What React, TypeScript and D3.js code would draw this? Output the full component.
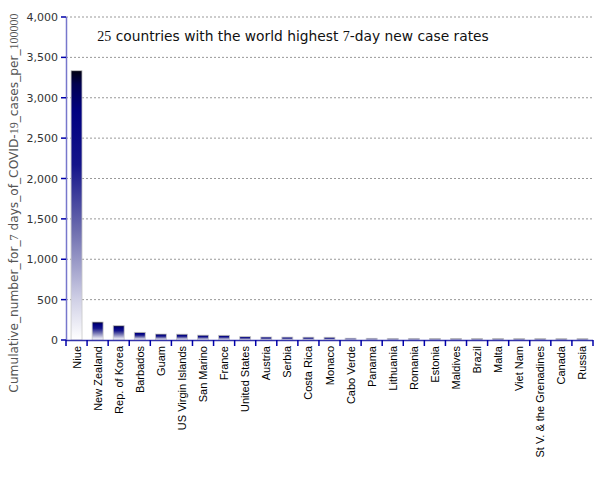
import React from "react";
import * as d3 from "d3";

const countries = ["Niue","New Zealand","Rep. of Korea","Barbados","Guam","US Virgin Islands","San Marino","France","United States","Austria","Serbia","Costa Rica","Monaco","Cabo Verde","Panama","Lithuania","Romania","Estonia","Maldives","Brazil","Malta","Viet Nam","St V. & the Grenadines","Canada","Russia"];
const values = [3335,223,177,95,74,72,60,58,41,37,36,35,34,22,21,20,20,19,19,18,18,17,17,16,16];
const yTicks = [0,500,1000,1500,2000,2500,3000,3500,4000];

const W = 605, H = 480;
const left = 66, right = 593, top = 17, bottom = 340;

export default function App() {
  const x = d3.scaleBand<string>().domain(countries).range([left, right]).paddingInner(0.48).paddingOuter(0.24);
  const y = d3.scaleLinear().domain([0, 4000]).range([bottom, top]);
  const fmt = d3.format(",");
  const band = (right - left) / countries.length;
  const serif = "'Liberation Serif', 'Times New Roman', serif";
  return (
    <svg width={W} height={H} style={{ position: "absolute", left: 0, top: 0 }} fontFamily="'DejaVu Sans', sans-serif">
      <defs>
        <linearGradient id="barg" x1="0" y1="0" x2="0" y2="1">
          <stop offset="0" stopColor="#000010" />
          <stop offset="0.05" stopColor="#000050" />
          <stop offset="0.15" stopColor="#000080" />
          <stop offset="0.35" stopColor="#14148a" />
          <stop offset="0.6" stopColor="#7070b0" />
          <stop offset="0.85" stopColor="#d0d0e6" />
          <stop offset="1" stopColor="#ffffff" />
        </linearGradient>
      </defs>
      <rect width={W} height={H} fill="#fff" />
      {yTicks.filter(t => t > 0).map(t => (
        <line key={t} x1={left} x2={right} y1={y(t)} y2={y(t)} stroke="#999" strokeDasharray="2,2" strokeWidth={1} />
      ))}
      {countries.map((c, i) => (
        <rect key={c} x={x(c)} y={y(values[i])} width={x.bandwidth()} height={bottom - y(values[i])} fill="url(#barg)" stroke="#c8c8c8" strokeWidth={0.8} />
      ))}
      <line x1={left + 0.5} x2={left + 0.5} y1={top} y2={bottom} stroke="#7777cc" strokeWidth={1.5} />
      <line x1={left} x2={right} y1={bottom + 0.5} y2={bottom + 0.5} stroke="#3333aa" strokeWidth={1.5} />
      {yTicks.map(t => (
        <g key={t}>
          <line x1={left - 5} x2={left} y1={y(t)} y2={y(t)} stroke="#0000aa" strokeWidth={1.5} />
          <text x={left - 8} y={y(t) + 4} textAnchor="end" fontSize={11} fill="#333">{fmt(t)}</text>
        </g>
      ))}
      {d3.range(countries.length + 1).map(i => (
        <line key={i} x1={left + i * band} x2={left + i * band} y1={bottom} y2={bottom + 6} stroke="#0000aa" strokeWidth={1.5} />
      ))}
      {countries.map(c => (
        <text key={c} transform={`translate(${(x(c) as number) + x.bandwidth() / 2 + 4},346) rotate(-90)`} textAnchor="end" fontSize={11} fontFamily="'Liberation Sans', Arial, sans-serif" fill="#000">{c}</text>
      ))}
      <text x={293} y={41} textAnchor="middle" fontSize={13.8} fill="#111">
        <tspan fontFamily={serif} fontSize={14}>25</tspan> countries with the world highest <tspan fontFamily={serif} fontSize={14}>7</tspan>-day new case rates
      </text>
      <text transform={`translate(18,203) rotate(-90)`} textAnchor="middle" fontSize={12.2} fill="#555">
        Cumulative_number_for_<tspan fontFamily={serif} fontSize={12}>7</tspan> days_of_COVID-<tspan fontFamily={serif} fontSize={12}>19</tspan>_cases_per_<tspan fontFamily={serif} fontSize={12}>100000</tspan>
      </text>
    </svg>
  );
}
